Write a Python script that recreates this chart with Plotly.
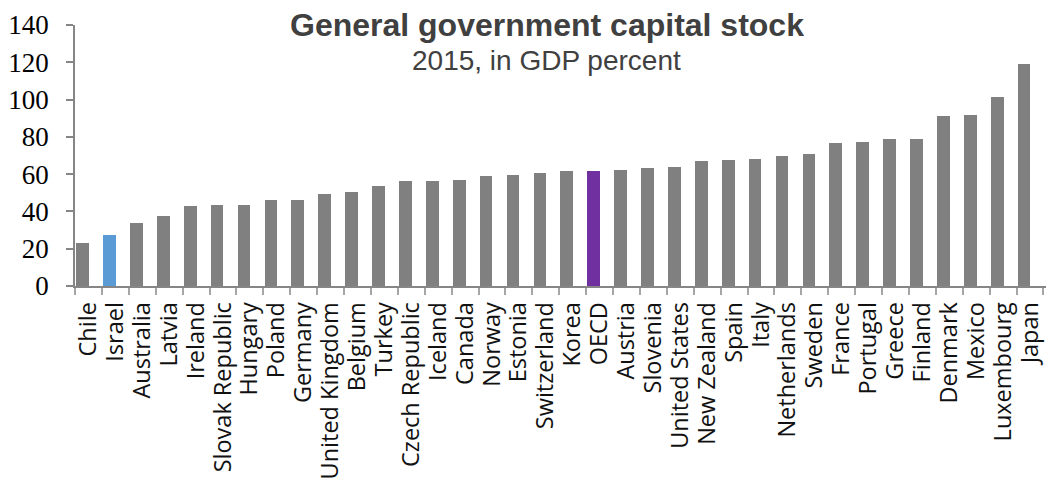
import plotly.graph_objects as go

# General government capital stock, 2015, % of GDP
countries = ["Chile", "Israel", "Australia", "Latvia", "Ireland", "Slovak Republic",
             "Hungary", "Poland", "Germany", "United Kingdom", "Belgium", "Turkey",
             "Czech Republic", "Iceland", "Canada", "Norway", "Estonia", "Switzerland",
             "Korea", "OECD", "Austria", "Slovenia", "United States", "New Zealand",
             "Spain", "Italy", "Netherlands", "Sweden", "France", "Portugal", "Greece",
             "Finland", "Denmark", "Mexico", "Luxembourg", "Japan"]
values = [23.0, 27.3, 33.9, 37.3, 43.0, 43.2, 43.4, 45.9, 45.9, 49.3, 50.5, 53.8,
          56.1, 56.3, 56.6, 58.9, 59.8, 60.6, 61.5, 61.6, 62.0, 63.4, 64.1, 66.8,
          67.5, 68.1, 70.0, 70.6, 76.8, 77.0, 78.8, 78.8, 91.3, 91.5, 101.5, 119.3]
y_ticks = [0, 20, 40, 60, 80, 100, 120, 140]

title_text = "General government capital stock"
subtitle_text = "2015, in GDP percent"

BASE = "#808080"
HIGHLIGHT = {"Israel": "#5b9bd5", "OECD": "#7030a0"}
colors = [HIGHLIGHT.get(c, BASE) for c in countries]

W, H = 1046, 480
ML, MR, MT, MB = 75, 0, 25, 194
plot_w = W - ML - MR
plot_h = H - MT - MB
slot_px = 26.9  # width of one category slot


def px_x(x):
    return (x - ML) / plot_w


def px_y(y):
    return 1 - (y - MT) / plot_h


fig = go.Figure(go.Bar(
    x=countries,
    y=values,
    marker=dict(color=colors, line=dict(width=0)),
    offset=-0.455,
    width=0.475,
    hoverinfo="x+y",
))

fig.update_layout(
    width=W, height=H,
    margin=dict(l=ML, r=MR, t=MT, b=MB, autoexpand=False),
    paper_bgcolor="white",
    plot_bgcolor="white",
    showlegend=False,
    bargap=0,
)

fig.update_xaxes(
    type="category",
    range=[-0.5, -0.5 + plot_w / slot_px],
    tickmode="array", tickvals=countries, ticktext=countries,
    showline=True, linecolor="#868686", linewidth=1.5,
    ticks="outside", tickson="boundaries", ticklen=7,
    tickcolor="#a6a6a6", tickwidth=1.5,
    tickangle=-90,
    tickfont=dict(family="Open Sans", size=23.5, color="#111111"),
    ticklabelstandoff=5,
    showgrid=False, zeroline=False, automargin=False,
)

fig.update_yaxes(
    range=[0, 140],
    tickvals=y_ticks,
    ticktext=[str(v) for v in y_ticks],
    showline=True, linecolor="#868686", linewidth=1.5,
    ticks="outside", ticklen=7, tickcolor="#868686", tickwidth=1.5,
    tickfont=dict(family="Liberation Serif", size=27, color="#000000"),
    ticklabelstandoff=12,
    showgrid=False, zeroline=False, automargin=False,
)

fig.add_annotation(
    text="<b>" + title_text + "</b>",
    xref="paper", yref="paper",
    x=px_x(547), y=px_y(5), xanchor="center", yanchor="top",
    showarrow=False,
    font=dict(family="Liberation Sans", size=32, color="#404040"),
)
fig.add_annotation(
    text=subtitle_text,
    xref="paper", yref="paper",
    x=px_x(546), y=px_y(43), xanchor="center", yanchor="top",
    showarrow=False,
    font=dict(family="Liberation Sans", size=28, color="#404040"),
)

fig.write_html("out.html")
